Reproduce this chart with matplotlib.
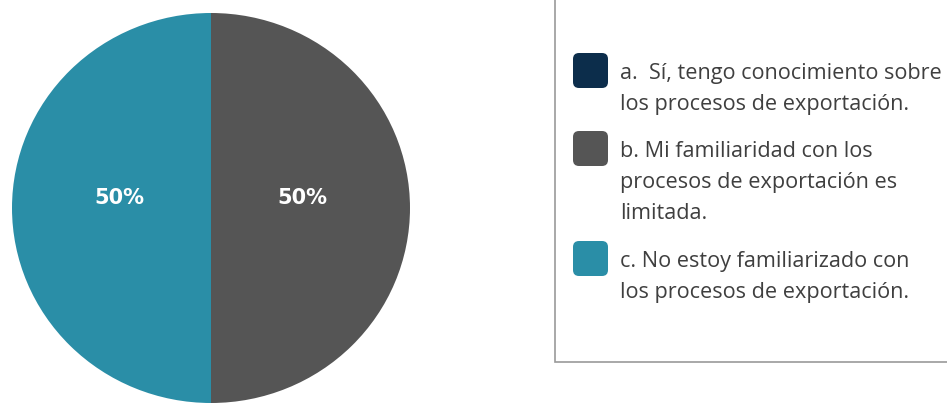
import matplotlib.pyplot as plt
from matplotlib.patches import FancyBboxPatch, Rectangle

labels = [
    "a.  Sí, tengo conocimiento sobre\nlos procesos de exportación.",
    "b. Mi familiaridad con los\nprocesos de exportación es\nlimitada.",
    "c. No estoy familiarizado con\nlos procesos de exportación.",
]
values = [0, 50, 50]
colors = ["#0c2d4b", "#555555", "#2a8ea7"]

W, H = 947, 408
fig = plt.figure(figsize=(W / 100, H / 100), dpi=100)
plt.rcParams['font.family'] = ['Open Sans', 'DejaVu Sans']

# pie on the left (slightly squashed, as exported)
cx, cy, rx, ry = 211, 208, 199, 195
ax = fig.add_axes([(cx - rx) / W, (H - cy - ry) / H, 2 * rx / W, 2 * ry / H])


def pct(p):
    return f"{p:.0f}%" if p > 0 else ""


wedges, texts, autotexts = ax.pie(values, colors=colors, startangle=90, counterclock=False,
                                  autopct=pct, pctdistance=0.46,
                                  wedgeprops=dict(linewidth=0),
                                  textprops=dict(color="white", fontsize=15, fontweight="bold",
                                                 family="DejaVu Sans"))
for t in autotexts:
    t.set_y(t.get_position()[1] + 0.05)
ax.set_aspect("auto")
ax.set_xlim(-1, 1)
ax.set_ylim(-1, 1)

# legend box, running off the top and right edges
fig.patches.append(Rectangle((555 / W, 1 - 362 / H), 500 / W, 400 / H, transform=fig.transFigure,
                             facecolor="white", edgecolor="#9a9a9a", linewidth=1.2))

# legend entries, laid out in pixels (inches * 100)
px = fig.dpi_scale_trans
sq = 35
line_h = 32
y = 53
for lab, col in zip(labels, colors):
    fig.patches.append(FancyBboxPatch(((573 + 6) / 100, (H - y - sq + 6) / 100), (sq - 12) / 100, (sq - 12) / 100,
                                      boxstyle="round,pad=0.06", transform=px,
                                      facecolor=col, edgecolor="none"))
    fig.text(620 / W, 1 - (y + 10) / H, lab, ha="left", va="top", fontsize=15.6,
             color="#3f3f3f", linespacing=1.62)
    y += line_h * (lab.count("\n") + 1) + 14

fig.savefig("out.png", dpi=100)
